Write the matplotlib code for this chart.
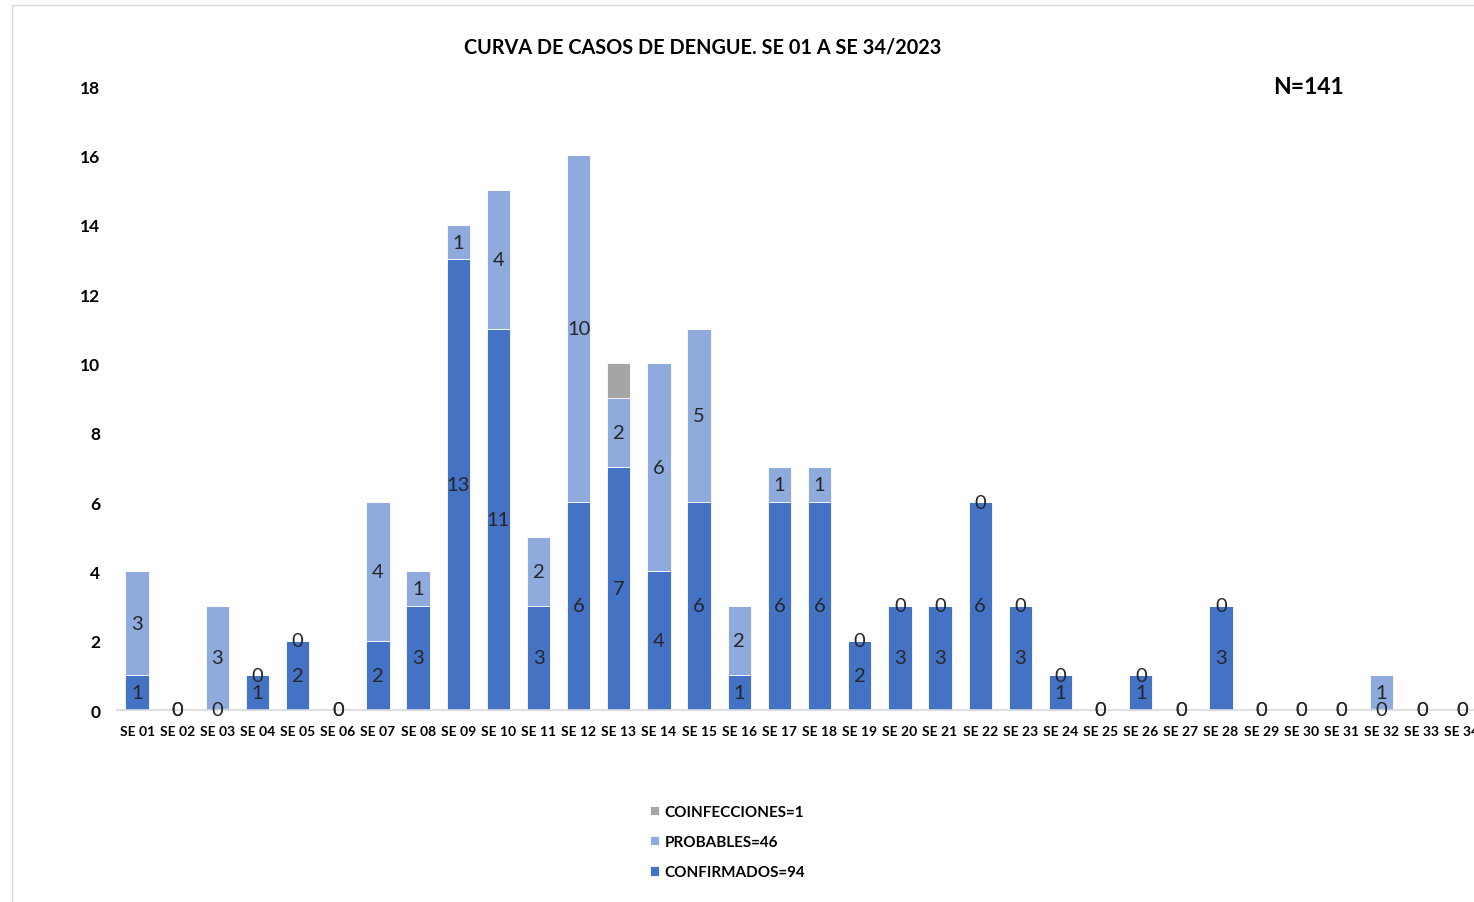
import matplotlib
matplotlib.use("Agg")
import matplotlib.pyplot as plt
from matplotlib.patches import Rectangle

plt.rcParams['font.family'] = ['Lato', 'DejaVu Sans']

semanas = [f"SE {i:02d}" for i in range(1, 35)]
confirmados = [1, 0, 0, 1, 2, 0, 2, 3, 13, 11, 3, 6, 7, 4, 6, 1, 6, 6, 2, 3, 3, 6, 3, 1, 0, 1, 0, 3,
               0, 0, 0, 0, 0, 0]
probables = [3, 0, 3, 0, 0, 0, 4, 1, 1, 4, 2, 10, 2, 6, 5, 2, 1, 1, 0, 0, 0, 0, 0, 0, 0, 0, 0, 0,
             0, 0, 0, 1, 0, 0]
coinfecciones = [0, 0, 0, 0, 0, 0, 0, 0, 0, 0, 0, 0, 1, 0, 0, 0, 0, 0, 0, 0, 0, 0, 0, 0, 0, 0, 0, 0,
                 0, 0, 0, 0, 0, 0]

c_conf = '#4472C4'
c_prob = '#8FAADC'
c_coinf = '#A5A5A5'

fig = plt.figure(figsize=(14.74, 9.03), dpi=100)
# marco gris del grafico (cortado a la derecha como en el original)
fig.patches.append(Rectangle((12 / 1474, -0.01), 1.1, 1 - 6 / 903 + 0.01, transform=fig.transFigure,
                             fill=False, edgecolor='#D9D9D9', linewidth=1))

ax = fig.add_axes([117 / 1474, 1 - 711 / 903, 1365 / 1474, 624 / 903])
x = list(range(len(semanas)))
w = 0.58
base2 = [a + b for a, b in zip(confirmados, probables)]

b1 = ax.bar(x, confirmados, w, color=c_conf, edgecolor='white', linewidth=0.6, label='CONFIRMADOS=94')
b2 = ax.bar(x, probables, w, bottom=confirmados, color=c_prob, edgecolor='white', linewidth=0.6,
            label='PROBABLES=46')
b3 = ax.bar(x, coinfecciones, w, bottom=base2, color=c_coinf, edgecolor='white', linewidth=0.6,
            label='COINFECCIONES=1')

ax.bar_label(b1, labels=[str(v) for v in confirmados], label_type='center', fontsize=14.5, color='#262626')
ax.bar_label(b2, labels=[str(v) for v in probables], label_type='center', fontsize=14.5, color='#262626')

ax.set_xlim(-0.5, len(semanas) - 0.5)
ax.set_ylim(0, 18)
ax.set_yticks(range(0, 19, 2))
ax.set_xticks(x)
ax.set_xticklabels(semanas, fontsize=10, fontweight='bold')
for lab in ax.get_yticklabels():
    lab.set_fontweight('bold')
    lab.set_fontsize(12.5)
ax.tick_params(axis='both', length=0)
ax.tick_params(axis='y', pad=12)
ax.tick_params(axis='x', pad=11)
for s in ['top', 'right', 'left']:
    ax.spines[s].set_visible(False)
ax.spines['bottom'].set_color('#D9D9D9')
ax.spines['bottom'].set_linewidth(1.2)

fig.text(703 / 1474, 1 - 47 / 903, 'CURVA DE CASOS DE DENGUE. SE 01 A SE 34/2023', ha='center', va='center',
         fontsize=14.3, fontweight='bold')
fig.text(1308 / 1474, 1 - 87 / 903, 'N=141', ha='center', va='center', fontsize=16.5, fontweight='bold')

handles = [b3, b2, b1]
fig.legend(handles=handles, labels=[h.get_label() for h in handles], loc='center left',
           bbox_to_anchor=(636 / 1474, 1 - 843 / 903), frameon=False, ncol=1,
           prop={'weight': 'bold', 'size': 11}, handlelength=0.6, handleheight=0.6,
           handletextpad=0.35, labelspacing=1.05)

plt.savefig('out.png', dpi=100)
